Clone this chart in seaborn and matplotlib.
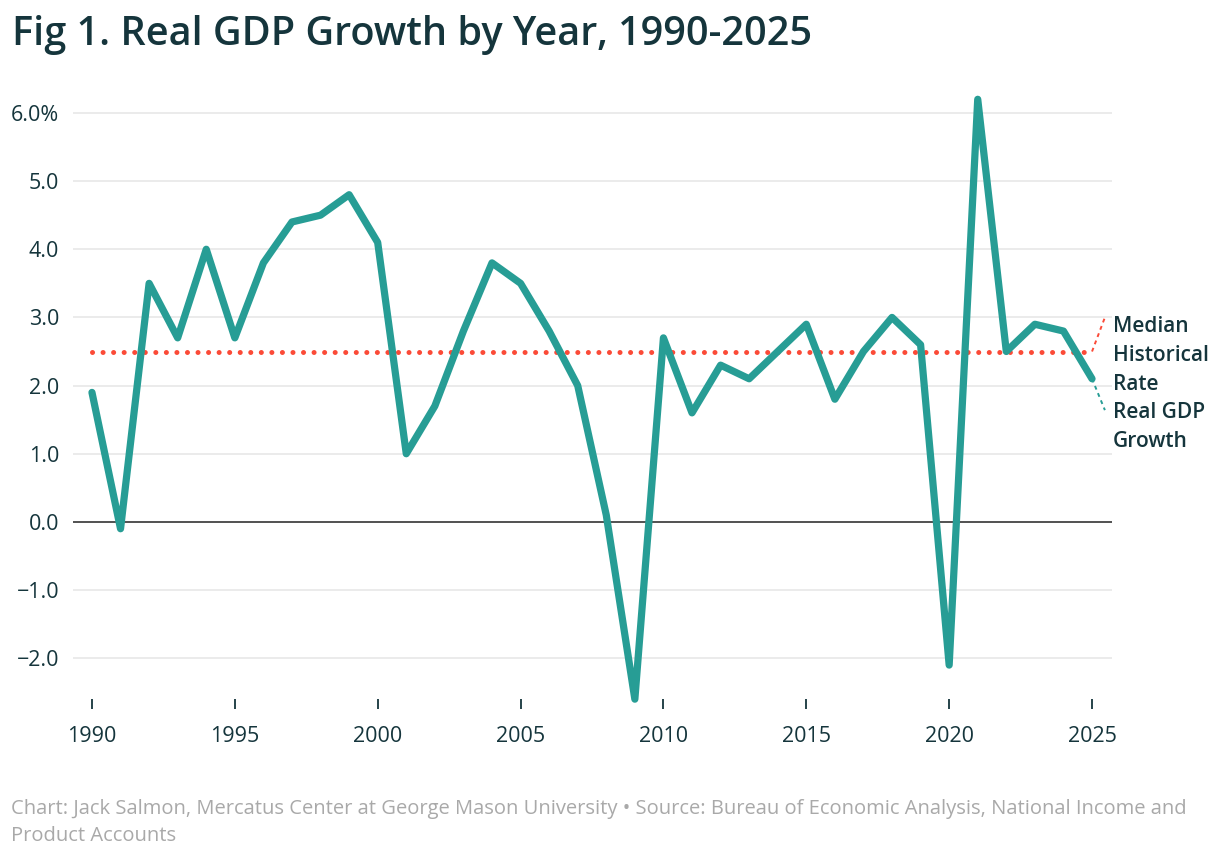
import numpy as np
import pandas as pd
import matplotlib
matplotlib.use("Agg")
import matplotlib.pyplot as plt
import seaborn as sns

# ----------------------------------------------------------
# Data
# ----------------------------------------------------------
years = list(range(1990, 2026))
gdp_growth = [
    1.9, -0.1, 3.5, 2.7, 4.0, 2.7, 3.8, 4.4, 4.5, 4.8,
    4.1, 1.0, 1.7, 2.8, 3.8, 3.5, 2.8, 2.0, 0.1, -2.6,
    2.7, 1.6, 2.3, 2.1, 2.5, 2.9, 1.8, 2.5, 3.0, 2.6,
    -2.1, 6.2, 2.5, 2.9, 2.8, 2.1,
]
median_rate = 2.5
x_ticks = [1990, 1995, 2000, 2005, 2010, 2015, 2020, 2025]
y_ticks = [-2, -1, 0, 1, 2, 3, 4, 5, 6]
y_labels = ["\u22122.0", "\u22121.0", "0.0", "1.0", "2.0", "3.0", "4.0", "5.0", "6.0%"]

df = pd.DataFrame({"Year": years, "Growth": gdp_growth})
df["Median"] = median_rate

teal = "#279d95"
red = "#fb4a37"
dark = "#15353c"
grey = "#a9a9a9"

sns.set_theme(style="white")
plt.rcParams["font.family"] = ["Open Sans", "DejaVu Sans"]

fig = plt.figure(figsize=(12.2, 8.58), dpi=100)
ax = fig.add_axes([0.0598, 0.1851, 0.8517, 0.6992])

# grid
for y in y_ticks:
    if y == 0:
        continue
    ax.axhline(y, color="#e6e6e6", lw=1.1, zorder=0)
ax.axhline(0, color="#333333", lw=1.2, zorder=1)

# median line
sns.lineplot(
    data=df, x="Year", y="Median", ax=ax, color=red, lw=3.6,
    dashes=False, zorder=2
)
med = ax.lines[-1]
med.set_linestyle((0, (0.01, 2.1)))
med.set_dash_capstyle("round")

# real GDP growth
sns.lineplot(data=df, x="Year", y="Growth", ax=ax, color=teal, lw=5.2, zorder=3)
ax.lines[-1].set_solid_joinstyle("round")
ax.lines[-1].set_solid_capstyle("round")
ax.lines[-1].set_clip_on(False)

# leader lines to the labels
last_year = years[-1]
ax.plot([last_year, last_year + 0.45], [median_rate, 3.0], color=red,
        lw=1.4, ls=(0, (2, 2)), clip_on=False)
ax.plot([last_year, last_year + 0.45], [gdp_growth[-1], 1.64], color=teal,
        lw=1.4, ls=(0, (2, 2)), clip_on=False)

ax.text(last_year + 0.73, 2.44, "Median\nHistorical\nRate", ha="left", va="center",
        fontsize=15, fontweight="semibold", color=dark, linespacing=1.5)
ax.text(last_year + 0.73, 1.39, "Real GDP\nGrowth", ha="left", va="center",
        fontsize=15, fontweight="semibold", color=dark, linespacing=1.5)

ax.set_xlim(1989.335, 2025.7)
ax.set_ylim(-2.6, 6.2)
ax.set_xticks(x_ticks)
ax.set_xticklabels([str(t) for t in x_ticks])
ax.set_yticks(y_ticks)
ax.set_yticklabels(y_labels)
ax.tick_params(axis="x", length=7, width=1.3, color=dark, pad=12,
               labelsize=15.5, labelcolor=dark, bottom=True, direction="out")
ax.tick_params(axis="y", length=0, pad=10, labelsize=15.5, labelcolor=dark)
ax.set_xlabel("")
ax.set_ylabel("")
sns.despine(ax=ax, left=True, bottom=True)

fig.text(0.0098, 0.959, "Fig 1. Real GDP Growth by Year, 1990-2025",
         ha="left", va="center", fontsize=28.5, fontweight="semibold", color=dark)

fig.text(0.009, 0.0415,
         "Chart: Jack Salmon, Mercatus Center at George Mason University \u2022 "
         "Source: Bureau of Economic Analysis, National Income and\nProduct Accounts",
         ha="left", va="center", fontsize=14.5, color=grey, linespacing=1.5)

fig.savefig("out.png", dpi=100)
plt.close(fig)
